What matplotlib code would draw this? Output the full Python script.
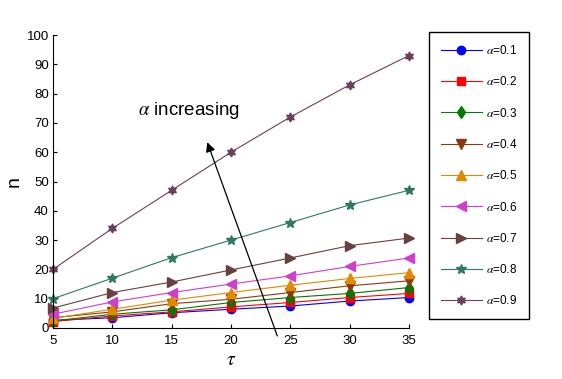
import matplotlib
matplotlib.use('Agg')
import matplotlib.pyplot as plt
import numpy as np

plt.rcParams['font.family'] = ['Liberation Sans', 'DejaVu Sans']
plt.rcParams['mathtext.fontset'] = 'stix'

# data
tau = [5, 10, 15, 20, 25, 30, 35]
alphas = ['0.1', '0.2', '0.3', '0.4', '0.5', '0.6', '0.7', '0.8', '0.9']
n_01 = [2.6, 3.5, 5.2, 6.4, 7.5, 9.2, 10.4]
n_02 = [2.2, 4.1, 5.5, 7.2, 8.7, 10.4, 11.8]
n_03 = [2.4, 4.7, 6.2, 8.7, 10.4, 11.8, 13.8]
n_04 = [3.5, 5.5, 8.3, 9.8, 12.1, 14.4, 16.1]
n_05 = [3.3, 6.4, 9.5, 12.1, 14.6, 16.9, 18.9]
n_06 = [4.7, 8.9, 12.1, 15.0, 17.8, 21.0, 23.9]
n_07 = [6.8, 12.1, 15.7, 19.8, 23.9, 28.1, 30.7]
n_08 = [10, 17, 24, 30, 36, 42, 47]
n_09 = [20, 34, 47, 60, 72, 83, 93]
series = [n_01, n_02, n_03, n_04, n_05, n_06, n_07, n_08, n_09]

colors = ['#0000ff', '#ff0000', '#007a00', '#8b3a10', '#e08a00',
          '#cc40cc', '#6a3f3f', '#2e7a5c', '#6a3f5c']
markers = ['o', 's', 'd', 'v', '^', '<', '>', '*', (6, 1, 0)]
sizes = [6, 6, 6.5, 7, 7, 7, 7, 7.5, 6.5]

fig = plt.figure(figsize=(5.62, 3.79), dpi=100)
ax = fig.add_axes([0.0943, 0.1346, 0.6335, 0.773])

for a, y, c, m, s in zip(alphas, series, colors, markers, sizes):
    ax.plot(tau, y, color=c, marker=m, markersize=s, markerfacecolor=c,
            markeredgecolor=c, linewidth=0.8, label=r'$\alpha$=' + a,
            clip_on=False)

ax.set_xlim(5, 35)
ax.set_ylim(0, 100)
ax.set_xticks(np.arange(5, 36, 5))
ax.set_yticks(np.arange(0, 101, 10))
ax.tick_params(direction='in', length=3, labelsize=9.5)
ax.tick_params(axis='x', pad=5)
ax.tick_params(axis='y', pad=3)
ax.spines['top'].set_visible(False)
ax.spines['right'].set_visible(False)
ax.set_xlabel(r'$\tau$', fontsize=14, labelpad=4)
ax.set_ylabel('n', fontsize=14, va='center')
ax.yaxis.set_label_coords(-0.11, 0.5)

ax.annotate('', xy=(18.0, 63.4), xytext=(23.9, -2.7),
            arrowprops=dict(arrowstyle='-|>', color='black', lw=0.9,
                            shrinkA=0, shrinkB=0, mutation_scale=14),
            annotation_clip=False)
ax.text(12.2, 74.3, r'$\alpha$ increasing', fontsize=13.5, va='center', ha='left')

fig.legend(loc='upper left', bbox_to_anchor=(0.763, 0.915), fontsize=8.5,
           fancybox=False, edgecolor='black', framealpha=1,
           labelspacing=1.55, borderpad=1.0, handlelength=3.5,
           handletextpad=0.35, borderaxespad=0)

fig.savefig('out.png', dpi=100)
